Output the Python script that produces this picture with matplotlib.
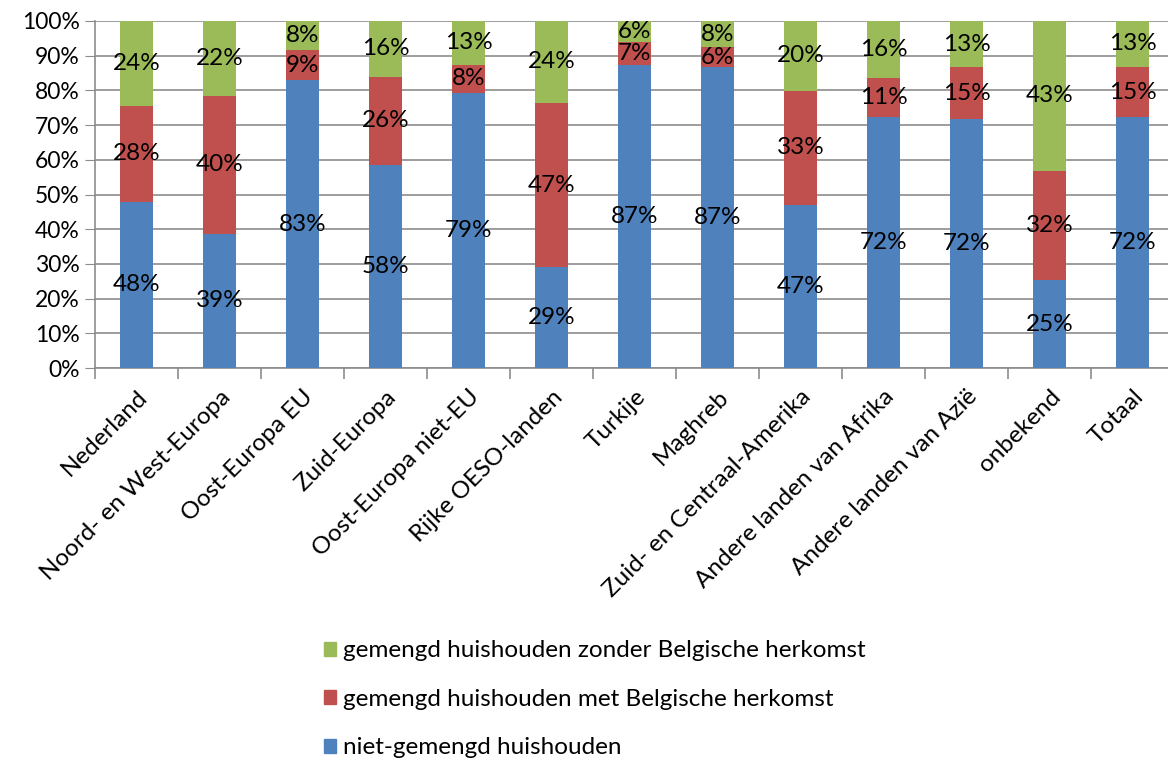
import matplotlib.pyplot as plt
import numpy as np
from matplotlib.patches import Patch
from matplotlib.ticker import FixedLocator

plt.rcParams['font.family'] = ['Lato', 'DejaVu Sans']

landen = ['Nederland', 'Noord- en West-Europa', 'Oost-Europa EU', 'Zuid-Europa',
          'Oost-Europa niet-EU', 'Rijke OESO-landen', 'Turkije', 'Maghreb',
          'Zuid- en Centraal-Amerika', 'Andere landen van Afrika',
          'Andere landen van Azië', 'onbekend', 'Totaal']

niet_gemengd = [47.9, 38.7, 82.9, 58.4, 79.3, 29.0, 87.2, 86.6, 47.1, 72.3, 71.8, 25.3, 72.2]
met_belg = [27.7, 39.7, 8.7, 25.6, 8.1, 47.4, 6.7, 5.8, 32.8, 11.3, 14.9, 31.6, 14.6]
zonder_belg = [24.4, 21.6, 8.4, 16.0, 12.6, 23.6, 6.1, 7.6, 20.1, 16.4, 13.3, 43.1, 13.2]

reeksen = ['niet-gemengd huishouden',
           'gemengd huishouden met Belgische herkomst',
           'gemengd huishouden zonder Belgische herkomst']
kleuren = ['#4F81BD', '#C0504D', '#9BBB59']

fig = plt.figure(figsize=(11.68, 7.58), dpi=100)
ax = fig.add_axes([0.0813, 0.5145, 0.9238, 0.4578])

x = np.arange(len(landen))
onder = np.zeros(len(landen))
for vals, naam, kleur in zip([niet_gemengd, met_belg, zonder_belg], reeksen, kleuren):
    vals = np.array(vals)
    ax.bar(x, vals, 0.4, bottom=onder, color=kleur, label=naam, zorder=3)
    for xi, b, v in zip(x, onder, vals):
        ax.text(xi, b + v / 2, f'{v:.0f}%', ha='center', va='center', fontsize=17.5, zorder=4)
    onder += vals

ax.set_xlim(-0.5, len(landen) - 0.5)
ax.set_ylim(0, 100)
ax.set_yticks(np.arange(0, 101, 10))
ax.set_yticklabels([f'{v}%' for v in range(0, 101, 10)], fontsize=16.5)
ax.yaxis.grid(True, color='#8C8C8C', linewidth=1.2, zorder=0)
ax.tick_params(axis='y', length=7, color='#8C8C8C', pad=4)

ax.set_xticks(x)
ax.set_xticklabels(landen, rotation=45, ha='right', rotation_mode='anchor', fontsize=17.5)
ax.tick_params(axis='x', which='major', length=0, pad=13)
ax.xaxis.set_minor_locator(FixedLocator(np.arange(-0.5, len(landen), 1)))
ax.tick_params(axis='x', which='minor', length=8, color='#8C8C8C', width=1.2)

for s in ['top', 'right']:
    ax.spines[s].set_visible(False)
for s in ['left', 'bottom']:
    ax.spines[s].set_color('#8C8C8C')
    ax.spines[s].set_linewidth(1.2)

handles = [Patch(color=c) for c in kleuren][::-1]
fig.legend(handles, reeksen[::-1], loc='upper left', bbox_to_anchor=(0.269, 0.168),
           frameon=False, fontsize=17.5, handlelength=0.5, handleheight=0.5,
           handletextpad=0.3, labelspacing=1.13, borderaxespad=0)

fig.savefig('out.png', dpi=100)
